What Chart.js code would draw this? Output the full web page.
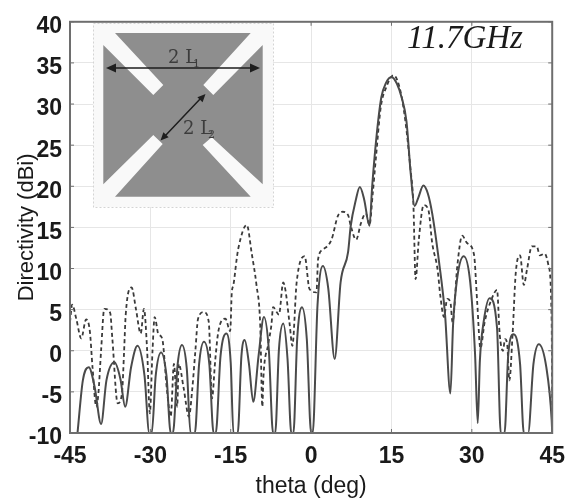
<!DOCTYPE html>
<html>
<head>
<meta charset="utf-8">
<title>Directivity at 11.7GHz</title>
<script src="https://cdn.jsdelivr.net/npm/chart.js@4"></script>
<style>
  html, body { margin: 0; padding: 0; background: #fff; }
  canvas { display: block; }
</style>
</head>
<body>
<canvas id="myChart" width="575" height="502"></canvas>
<script>
'use strict';

const xTicks = [-45, -30, -15, 0, 15, 30, 45];
const yTicks = [-10, -5, 0, 5, 10, 15, 20, 25, 30, 35, 40];

// solid curve
const solidTheta = [-43.6, -42.6, -41.5, -40.4, -39.2, -38.2, -36.7, -35.6, -34.7, -33.6, -32.4, -31.1, -30.2, -29.75,
  -29, -28, -27, -26.2, -25.8, -24.9, -24.1, -23.2, -22.5, -21.7, -20.9, -20, -19, -18.2, -17.8, -16.9, -15.8, -15, -14.5, -13.7,
  -13, -12.4, -11.6, -10.8, -9.8, -8.8, -7.9, -7.1, -6.7, -6, -5.2, -4.4, -3.7, -3.3, -2.6, -1.7, -0.8, 0, 0.3, 1.2, 2.2, 3.2, 4.4,
  5.5, 6.9, 7.4, 8.3, 9.1, 9.9, 10.9, 11.4, 12.2, 13.1, 14, 15, 16, 16.9, 17.8, 18.6, 19.3, 20, 20.95, 21.8, 22.6, 23.9, 25, 26, 26.5,
  27.3, 28.5, 29.7, 30.6, 31.1, 31.5, 32.2, 33.3, 34.7, 35.4, 36.1, 36.8, 37.8, 39, 39.7, 40.5, 41.5, 42.5, 43.9, 44.9, 45];
const solidDir = [-10, -3.6, -2, -4.4, -8.9, -3.6, -1.4, -3.4, -6.8, -2, 0.6, -3, -10, -10,
  -3, -0.2, -3, -10, -10, -1.6, 0.7, -2.2, -10, -10, -1.6, 1.1, -1.6, -10, -10, -0.6, 2.1, -1.5, -10, -10,
  -0.6, 1.3, -1.6, -6.2, -0.6, 4.1, 0.2, -10, -10, 0.2, 3.3, -1, -10, -10, 1.4, 5.3, 1.4, -10, -10, 5.6, 10.3, 7.6, -1,
  8.3, 12, 15.2, 18.2, 19.9, 18.4, 15.2, 20, 26, 30.8, 32.6, 33.3, 32.5, 30.8, 27.9, 21.5, 17.6, 18.6, 20.1, 19.1, 16.7, 10.7, 4.4, -5.2, 3.2,
  9, 11.5, 8.3, -0.4, -8.8, -1.2, 3.5, 6.4, 2.8, -10, -10, -0.4, 2, -1.6, -10, -10, -1.6, 0.8, -2, -8.4, -10];

// dashed curve
const dashTheta = [-45, -44.6, -43.8, -42.9, -42, -41.3, -40.8, -40.1, -39.7, -39.2, -38.6, -37.5, -37.1, -36.1, -35.3, -34.9, -34.6,
  -33.5, -32.7, -31.8, -31.2, -30.6, -30.1, -29.6, -29.2, -28.5, -27.8, -26.9, -26.2, -25.6, -25, -24.7, -23.8, -22.8, -22.2, -21.6, -21.1,
  -20, -19.1, -18.5, -17.9, -17.3, -16, -15.1, -14.8, -14.5, -13.9, -13.6, -12, -11.1, -10.2, -9.5, -9.1, -8.9, -8, -7.4, -7.1, -6,
  -5.2, -4.8, -4, -3.5, -2.7, -1.2, -0.3, 1, 1.3, 2.2, 3.8, 5, 5.9, 6.9, 7.4, 8.4, 9.3, 10.2, 10.9, 11.5, 12.1, 13, 14, 15.4, 16.7,
  17.6, 18.5, 19.1, 19.5, 20.1, 21, 21.9, 22.6, 23.6, 24.1, 24.8, 25.4, 26, 26.4, 27.3, 28.2, 29.1, 30.4, 31, 31.6, 32.4, 33.7, 34.7,
  35.2, 35.8, 36.2, 36.6, 37, 37.6, 38.2, 39, 39.7, 40.3, 41.2, 42.1, 42.7, 43.6, 44.3, 44.9, 45];
const dashDir = [3.5, 5.6, 3.8, 1.5, 3.8, 2.4, -2, -6.8, -5.2, 0, 5.1, 4.6, 1.5, -6.4, -5.2, 0, 4.4,
  7.7, 5.1, 2.1, 5.1, 0, -7.6, 0, 4.1, 2, 1.5, -4.8, -8, -1.6, -6.8, -1.6, -4.5, -8, -4.8, 0, 3.9,
  4.7, 3.5, -5.8, -1.2, 2.4, 3.9, 2.4, 7.1, 8, 11.1, 12.4, 15.3, 11.9, 8, 3.2, -6.8, -3.2, 0.8, 3.2, 5.3, 4.4,
  8.3, 7.4, 3.2, 0.6, 8.3, 11.5, 7.5, 7.1, 11.1, 12.3, 13.5, 16.4, 16.9, 16.5, 15.2, 13.5, 15.5, 16.7, 15.3, 19.1, 23.5, 29.6, 32, 33.5, 31.5,
  27.9, 22.4, 17.6, 8.7, 13.5, 17.7, 17.1, 13.1, 9.9, 6.8, 4.1, 6.3, 5.9, 3.5, 10.4, 14, 13.1, 11.7, 5.9, 0.3, 3.5, 6.3, 7.4,
  2, 0, 1.4, 0.8, -3.6, 2, 9.5, 11.6, 8, 9.9, 12.7, 12.7, 11.6, 11.8, 10.4, 3.5, -9];

const solidLine = [];
for (let i = 0; i < solidTheta.length; i++) {
  solidLine.push({ x: solidTheta[i], y: solidDir[i] });
}
const dashLine = [];
for (let i = 0; i < dashTheta.length; i++) {
  dashLine.push({ x: dashTheta[i], y: dashDir[i] });
}

function arrowHead(ctx, x, y, angle, size) {
  ctx.save();
  ctx.translate(x, y);
  ctx.rotate(angle);
  ctx.beginPath();
  ctx.moveTo(0, 0);
  ctx.lineTo(-size, -size * 0.45);
  ctx.lineTo(-size, size * 0.45);
  ctx.closePath();
  ctx.fill();
  ctx.restore();
}

// frame with small inward ticks
const framePlugin = {
  id: 'frame',
  afterDatasetsDraw(chart) {
    const ctx = chart.ctx;
    const a = chart.chartArea;
    ctx.save();
    ctx.strokeStyle = '#6e6e6e';
    ctx.lineWidth = 2;
    ctx.strokeRect(a.left, a.top, a.right - a.left, a.bottom - a.top);
    ctx.lineWidth = 1;
    ctx.beginPath();
    xTicks.forEach(t => {
      const x = chart.scales.x.getPixelForValue(t);
      ctx.moveTo(x, a.top);
      ctx.lineTo(x, a.top + 4);
      ctx.moveTo(x, a.bottom);
      ctx.lineTo(x, a.bottom - 4);
    });
    yTicks.forEach(t => {
      const y = chart.scales.y.getPixelForValue(t);
      ctx.moveTo(a.left, y);
      ctx.lineTo(a.left + 4, y);
      ctx.moveTo(a.right, y);
      ctx.lineTo(a.right - 4, y);
    });
    ctx.stroke();
    ctx.restore();
  }
};

// patch antenna sketch and the frequency label
const insetPlugin = {
  id: 'inset',
  afterDatasetsDraw(chart) {
    const ctx = chart.ctx;
    ctx.save();

    ctx.fillStyle = '#f9f9f9';
    ctx.fillRect(93, 23, 180, 184);
    ctx.strokeStyle = '#d4d4d4';
    ctx.setLineDash([2, 2]);
    ctx.strokeRect(93.5, 23.5, 180, 184);
    ctx.setLineDash([]);

    const patch = [[115, 33], [163.3, 85], [153.3, 95], [103.3, 45], [103.3, 184.3], [153.3, 135], [162.7, 144],
      [115, 196.7], [250.7, 196.7], [202.7, 145], [211.7, 137.3], [262.7, 184.3], [262.7, 45], [213.3, 95],
      [203.3, 85], [250.7, 33]];
    ctx.fillStyle = '#8e8e8e';
    ctx.beginPath();
    patch.forEach((p, i) => {
      if (i === 0) ctx.moveTo(p[0], p[1]);
      else ctx.lineTo(p[0], p[1]);
    });
    ctx.closePath();
    ctx.fill();

    ctx.strokeStyle = '#1e1e1e';
    ctx.fillStyle = '#1e1e1e';
    ctx.lineWidth = 1.5;
    ctx.beginPath();
    ctx.moveTo(112, 68);
    ctx.lineTo(254, 68);
    ctx.moveTo(201, 98);
    ctx.lineTo(165, 136);
    ctx.stroke();
    arrowHead(ctx, 106, 68, Math.PI, 10);
    arrowHead(ctx, 260, 68, 0, 10);
    arrowHead(ctx, 205.5, 94, -0.81, 8);
    arrowHead(ctx, 160.5, 140.5, 2.33, 8);

    ctx.fillStyle = '#3c3c3c';
    ctx.font = '18px "DejaVu Serif"';
    ctx.textBaseline = 'alphabetic';
    ctx.textAlign = 'left';
    ctx.fillText('2 L', 168, 63);
    ctx.fillText('2 L', 183, 134);
    ctx.font = '11px "DejaVu Serif"';
    ctx.fillText('1', 193, 67);
    ctx.fillText('2', 208, 138);

    ctx.fillStyle = '#1a1a1a';
    ctx.font = 'italic 33px "Liberation Serif"';
    ctx.textAlign = 'center';
    ctx.textBaseline = 'middle';
    ctx.fillText('11.7GHz', 465, 39);
    ctx.restore();
  }
};

const ctx = document.getElementById('myChart').getContext('2d');
const chart = new Chart(ctx, {
  type: 'scatter',
  data: {
    datasets: [{
      label: 'solid',
      data: solidLine,
      showLine: true,
      borderColor: '#4a4a4a',
      borderWidth: 2,
      pointRadius: 0,
      cubicInterpolationMode: 'monotone'
    }, {
      label: 'dashed',
      data: dashLine,
      showLine: true,
      borderColor: '#3a3a3a',
      borderWidth: 1.8,
      borderDash: [4, 3],
      pointRadius: 0,
      cubicInterpolationMode: 'monotone'
    }]
  },
  options: {
    responsive: false,
    animation: false,
    layout: { padding: { top: 16, right: 19, left: 0, bottom: 0 } },
    plugins: {
      legend: { display: false },
      tooltip: { enabled: false }
    },
    scales: {
      x: {
        type: 'linear',
        min: -45,
        max: 45,
        afterBuildTicks(scale) {
          scale.ticks = xTicks.map(v => ({ value: v }));
        },
        afterFit(scale) {
          scale.height = 69;
        },
        grid: { color: '#e6e6e6', lineWidth: 1, drawTicks: false },
        border: { display: false },
        ticks: {
          color: '#1a1a1a',
          font: { family: '"Liberation Sans"', size: 23, weight: 'bold' },
          padding: 10,
          maxRotation: 0,
          autoSkip: false
        },
        title: {
          display: true,
          text: 'theta (deg)',
          color: '#1a1a1a',
          font: { family: '"Liberation Sans"', size: 23 },
          padding: { top: 0, bottom: 2 }
        }
      },
      y: {
        min: -10,
        max: 40,
        afterBuildTicks(scale) {
          scale.ticks = yTicks.map(v => ({ value: v }));
        },
        afterFit(scale) {
          scale.width = 70;
        },
        grid: { color: '#e6e6e6', lineWidth: 1, drawTicks: false },
        border: { display: false },
        ticks: {
          color: '#1a1a1a',
          font: { family: '"Liberation Sans"', size: 23, weight: 'bold' },
          padding: 8,
          labelOffset: 5,
          autoSkip: false
        },
        title: {
          display: true,
          text: 'Directivity (dBi)',
          color: '#1a1a1a',
          font: { family: '"Liberation Sans"', size: 22 },
          padding: { top: 14, bottom: 0 }
        }
      }
    }
  },
  plugins: [framePlugin, insetPlugin]
});
</script>
</body>
</html>
